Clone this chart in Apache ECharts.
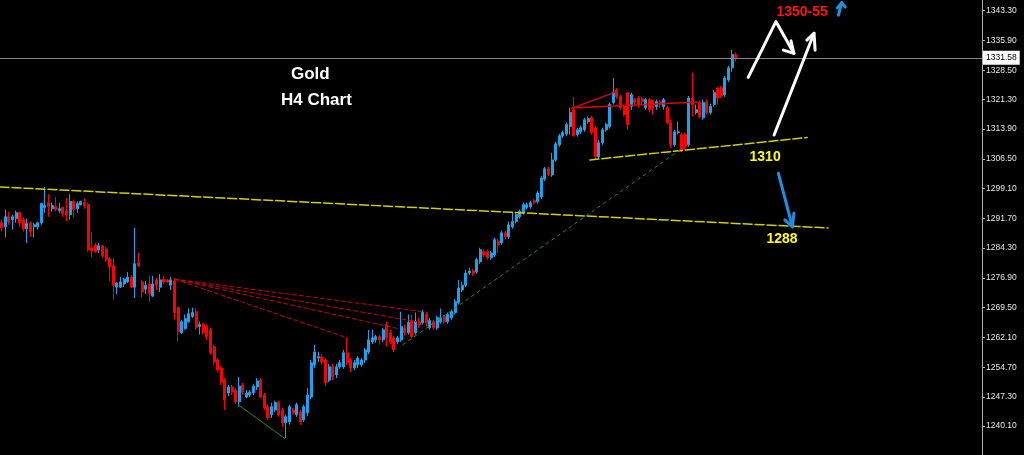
<!DOCTYPE html>
<html><head><meta charset="utf-8">
<script src="https://cdn.jsdelivr.net/npm/echarts@6/dist/echarts.min.js"></script>
<style>html,body{margin:0;padding:0;background:#000;overflow:hidden}#c{width:1024px;height:455px}</style>
</head><body><div id="c"></div>
<script>
// ---- candle values (XAUUSD H4), oldest first ----
const opens = [1290.6,1289.6,1292.1,1291.4,1291.6,1293.1,1291.4,1289.1,1290.6,1289.6,1289.6,1290.6,1294.4,1295.6,1294.1,1294.6,1293.6,1294.4,1293.6,1292.6,1295.9,1294.1,1295.1,1295.6,1295.1,1284.4,1285.1,1283.9,1284.9,1284.1,1281.6,1279.9,1274.6,1274.6,1275.4,1275.9,1277.1,1274.6,1280.6,1275.9,1274.1,1275.4,1272.4,1276.4,1274.6,1276.6,1276.4,1275.1,1276.1,1269.5,1263.3,1264.3,1266.0,1267.3,1268.5,1264.8,1265.3,1264.8,1264.0,1259.8,1256.5,1254.5,1251.5,1248.3,1249.8,1249.0,1246.1,1250.3,1247.3,1247.8,1248.3,1249.8,1251.5,1247.8,1244.9,1242.9,1244.1,1245.9,1244.1,1240.9,1241.1,1244.1,1242.9,1243.6,1241.6,1243.4,1247.3,1255.3,1257.0,1257.3,1256.5,1251.5,1254.8,1252.8,1254.8,1254.8,1258.3,1256.5,1254.5,1255.3,1255.3,1256.5,1258.5,1261.0,1261.5,1262.3,1261.5,1265.3,1263.3,1262.0,1261.0,1261.5,1264.5,1263.3,1266.3,1263.3,1266.0,1265.8,1267.8,1264.5,1266.0,1264.5,1266.0,1267.3,1266.0,1267.0,1268.3,1270.8,1273.9,1275.1,1278.1,1278.6,1278.4,1280.9,1283.4,1283.4,1281.9,1282.6,1286.1,1285.6,1288.1,1287.1,1289.6,1290.9,1292.1,1293.1,1294.4,1294.6,1296.1,1295.9,1297.0,1301.5,1304.0,1302.5,1306.2,1310.0,1312.2,1312.7,1314.5,1318.7,1312.5,1313.2,1313.7,1315.7,1316.7,1314.2,1307.0,1310.5,1313.7,1314.5,1320.5,1323.6,1321.9,1319.5,1322.9,1319.5,1321.2,1321.6,1321.4,1319.2,1321.2,1320.7,1319.5,1320.7,1319.5,1319.2,1315.5,1310.0,1313.0,1312.5,1312.5,1310.0,1321.6,1318.0,1320.5,1316.7,1320.5,1318.0,1320.0,1324.1,1324.1,1322.4,1326.1,1329.1,1332.4];
const closes = [1289.4,1292.1,1290.9,1292.1,1293.1,1290.6,1289.1,1290.4,1288.4,1290.1,1290.6,1295.4,1294.9,1294.6,1294.9,1293.9,1294.1,1292.9,1292.6,1295.9,1293.9,1295.4,1295.9,1294.9,1283.9,1283.6,1283.4,1284.9,1282.4,1281.4,1279.6,1275.1,1275.6,1275.9,1276.6,1277.1,1274.6,1280.4,1279.9,1273.4,1275.1,1273.1,1275.4,1275.1,1276.4,1275.9,1275.9,1276.4,1268.3,1263.5,1266.0,1266.8,1268.0,1268.3,1264.5,1265.3,1263.3,1262.3,1258.3,1256.0,1254.0,1251.0,1246.6,1249.8,1248.5,1246.1,1250.0,1248.5,1248.3,1248.5,1250.0,1251.3,1247.3,1244.6,1242.1,1244.9,1245.9,1242.9,1240.9,1242.4,1244.9,1243.4,1245.4,1241.1,1244.9,1247.8,1255.8,1258.5,1257.3,1256.0,1250.8,1254.8,1252.3,1254.8,1255.8,1258.3,1255.8,1254.5,1255.8,1257.0,1256.5,1259.0,1261.5,1262.0,1262.3,1261.5,1264.0,1262.0,1261.0,1259.0,1262.0,1264.8,1263.3,1265.8,1262.3,1266.0,1265.3,1268.3,1265.8,1266.3,1264.5,1267.0,1267.0,1266.0,1267.8,1268.5,1271.0,1274.4,1275.1,1278.1,1278.6,1278.1,1281.4,1283.9,1282.6,1281.9,1283.1,1286.4,1285.1,1288.1,1287.1,1290.1,1290.9,1292.6,1293.4,1295.1,1295.1,1295.6,1295.6,1298.0,1301.7,1304.0,1302.7,1306.2,1310.2,1312.2,1313.0,1315.0,1318.0,1312.2,1313.7,1314.2,1316.2,1316.5,1313.0,1307.0,1310.5,1313.7,1315.0,1320.0,1323.1,1321.9,1319.2,1317.5,1315.0,1322.4,1320.5,1320.0,1320.7,1321.2,1318.7,1319.2,1320.7,1320.0,1321.2,1315.5,1310.0,1313.2,1313.2,1308.7,1309.5,1321.6,1320.0,1318.7,1317.0,1320.5,1318.0,1319.5,1322.9,1321.6,1322.1,1326.6,1329.1,1332.4,1331.6];
const lows = [1288.4,1286.9,1290.1,1288.9,1290.6,1289.6,1288.4,1285.6,1287.1,1286.9,1288.9,1290.1,1293.1,1292.1,1293.4,1293.4,1293.1,1292.1,1290.9,1291.4,1291.9,1293.1,1294.9,1294.1,1283.4,1282.1,1283.1,1283.1,1281.9,1280.9,1276.1,1271.5,1272.9,1274.4,1274.6,1275.6,1274.4,1271.9,1279.6,1272.1,1272.9,1271.0,1272.1,1273.9,1273.4,1275.4,1275.6,1273.9,1266.5,1261.0,1263.0,1264.0,1265.8,1267.0,1264.0,1262.8,1262.8,1261.5,1257.8,1255.3,1253.5,1250.3,1244.1,1247.5,1247.8,1245.6,1244.9,1247.8,1247.0,1247.3,1247.8,1249.0,1247.0,1244.1,1241.6,1242.1,1243.6,1242.4,1239.9,1237.1,1240.4,1242.9,1242.4,1240.4,1241.1,1242.6,1246.8,1254.5,1256.0,1255.3,1250.0,1251.0,1251.5,1252.0,1254.3,1254.3,1255.3,1253.5,1254.0,1254.5,1254.8,1255.8,1258.0,1260.5,1260.8,1260.3,1261.0,1259.8,1260.5,1258.5,1260.5,1261.0,1262.5,1262.8,1262.0,1262.8,1264.5,1265.3,1264.8,1264.0,1264.0,1264.0,1265.5,1265.5,1265.5,1266.5,1267.8,1270.3,1273.4,1274.6,1277.6,1277.4,1277.9,1280.4,1282.1,1281.4,1281.4,1282.1,1283.1,1285.1,1286.4,1286.6,1289.1,1290.4,1291.6,1292.6,1293.9,1294.1,1295.1,1295.4,1296.5,1301.0,1302.2,1302.0,1305.7,1309.5,1311.7,1312.2,1312.5,1312.0,1312.0,1312.7,1313.2,1315.2,1312.5,1306.2,1306.5,1310.0,1313.2,1314.0,1320.0,1321.4,1318.7,1317.0,1313.7,1318.7,1320.0,1319.2,1320.0,1318.7,1318.0,1317.5,1318.7,1319.2,1318.7,1315.0,1309.2,1309.5,1312.5,1308.2,1308.7,1309.5,1317.0,1317.5,1316.5,1316.2,1317.5,1317.5,1319.5,1320.0,1321.6,1321.9,1325.6,1328.1,1330.6];
const highs = [1291.4,1293.9,1293.4,1292.6,1293.6,1293.4,1291.9,1291.6,1290.9,1290.6,1290.9,1295.6,1299.5,1297.7,1295.6,1297.0,1295.6,1294.6,1296.7,1297.7,1296.4,1295.9,1296.1,1296.7,1295.6,1288.4,1285.6,1285.6,1285.1,1284.6,1282.1,1281.9,1275.9,1277.1,1276.9,1278.4,1277.6,1289.4,1283.1,1276.4,1276.1,1277.4,1277.4,1276.9,1277.9,1277.4,1276.6,1277.1,1276.9,1269.8,1266.5,1267.8,1269.3,1269.5,1269.3,1266.0,1265.8,1265.3,1264.5,1260.3,1257.0,1255.0,1252.0,1250.3,1250.3,1249.5,1252.3,1250.8,1249.0,1249.0,1250.5,1252.0,1252.0,1248.3,1245.4,1245.9,1246.4,1246.4,1244.6,1242.9,1245.4,1244.6,1245.9,1244.1,1245.4,1249.5,1256.5,1260.3,1258.5,1258.0,1257.0,1255.5,1255.5,1255.5,1256.5,1259.0,1262.0,1257.0,1256.5,1257.5,1257.0,1259.5,1264.0,1264.0,1262.8,1262.8,1264.5,1266.0,1264.0,1262.5,1262.5,1268.5,1265.3,1267.8,1267.8,1268.3,1267.0,1269.0,1268.5,1267.0,1266.5,1267.5,1269.3,1267.8,1268.3,1269.0,1271.6,1276.4,1275.9,1278.9,1279.4,1279.1,1281.9,1284.4,1284.1,1283.9,1283.6,1286.9,1286.6,1288.6,1288.6,1290.9,1293.1,1293.1,1293.9,1295.6,1295.6,1296.1,1296.5,1298.5,1302.2,1304.5,1304.5,1308.0,1310.7,1312.7,1313.5,1315.5,1319.2,1321.9,1314.2,1314.7,1316.7,1317.0,1317.2,1314.7,1311.2,1314.2,1315.5,1320.5,1326.6,1324.1,1322.4,1320.0,1323.1,1322.9,1321.6,1322.1,1321.9,1321.6,1321.6,1321.2,1321.2,1321.2,1321.6,1319.7,1316.2,1313.7,1315.7,1313.0,1313.0,1322.1,1327.9,1320.0,1321.0,1321.2,1321.2,1320.2,1323.6,1324.4,1324.6,1327.1,1329.6,1333.6,1332.9];

// ---- price scale labels (right axis) ----
const priceTicks = [1343.30,1335.90,1328.50,1321.30,1313.90,1306.50,1299.10,1291.70,1284.30,1276.90,1269.50,1262.10,1254.70,1247.30,1240.10,1232.70];
const currentPrice = 1331.58;

// ---- drawn objects, in [bar index, price] ----
const yellowTrendLines = [
  [[-0.5, 1299.5], [229.7, 1289.3]],
  [[163.5, 1306.2], [223.9, 1311.8]]
];
const greenDottedLine = [[[111.5, 1260.3], [188.5, 1308.7]]];
const redFanLines = [
  [[48, 1276.6], [117.1, 1268.5]],
  [[48, 1276.6], [115.4, 1266.0]],
  [[48, 1276.6], [110.1, 1264.3]],
  [[48, 1276.6], [96.0, 1262.0]]
];
const redTopLines = [
  [[158.5, 1319.1], [170.9, 1323.2]],
  [[158.5, 1319.1], [193.3, 1320.6]]
];
const greenBottomLine = [[[65.75, 1245.35], [78.7, 1237.0]]];
const whiteArrows = [
  [[207.5, 1326.75], [215.2, 1340.6], [220.2, 1332.7]],
  [[217.3, 1333.5], [220.2, 1332.7], [219.4, 1335.8]],
  [[214.7, 1312.4], [225.8, 1337.7]],
  [[223.8, 1336.0], [225.8, 1337.7], [226.1, 1333.5]]
];
const blueArrows = [
  [[215.9, 1302.9], [219.8, 1289.6]],
  [[217.7, 1291.3], [219.8, 1289.6], [220.2, 1292.95]],
  [[232.6, 1342.2], [233.5, 1345.3]],
  [[232.3, 1344.0], [233.5, 1345.3], [234.5, 1344.2]]
];
const textNotes = [
  { text: '1350-55', at: [222.5, 1343.05] },
  { text: '1310', at: [212.2, 1307.0] },
  { text: '1288', at: [216.9, 1286.6] }
];

const slotCount = 273;
const slots = Array.from({ length: slotCount }, (_, i) => 'B' + i);
const candleData = opens.map((o, i) => [o, closes[i], lows[i], highs[i]]);

const chart = echarts.init(document.getElementById('c'), null, { renderer: 'canvas' });

function linesSeries(paths, color, width, type, z) {
  return {
    type: 'lines', coordinateSystem: 'cartesian2d', xAxisIndex: 1, yAxisIndex: 0,
    polyline: true, silent: true, z: z || 5,
    lineStyle: { color: color, width: width, type: type, opacity: 1, cap: 'round', join: 'round' },
    data: paths.map(p => ({ coords: p }))
  };
}

const bull = '#1aa3ec', bear = '#ff0000';
chart.setOption({
  backgroundColor: '#000000',
  animation: false,
  title: [
    { text: 'Gold', left: 291, top: 66, padding: 0,
      textStyle: { color: '#ffffff', fontSize: 17, fontWeight: 'bold', fontFamily: 'Liberation Sans' } },
    { text: 'H4 Chart', left: 281, top: 92, padding: 0,
      textStyle: { color: '#ffffff', fontSize: 17, fontWeight: 'bold', fontFamily: 'Liberation Sans' } }
  ],
  grid: { left: 0, right: 42, top: 0, bottom: 0, containLabel: false },
  xAxis: [
    { type: 'category', data: slots, boundaryGap: true, show: false },
    { type: 'value', min: -0.5, max: slotCount - 0.5, show: false }
  ],
  yAxis: {
    type: 'value', position: 'right', min: 1232.89, max: 1345.96,
    splitLine: { show: false },
    axisLine: { show: true, onZero: false, lineStyle: { color: '#b0b0b0', width: 1 } },
    axisTick: { show: true, customValues: priceTicks, length: 3, lineStyle: { color: '#b0b0b0' } },
    axisLabel: { customValues: priceTicks, formatter: v => v.toFixed(2), color: '#e6e6e6',
      fontSize: 8.5, fontFamily: 'Liberation Sans', margin: 4 }
  },
  series: [
    {
      type: 'candlestick', xAxisIndex: 0, yAxisIndex: 0, data: candleData, barWidth: 2.5, z: 3,
      itemStyle: { color: bull, color0: bear, borderColor: bull, borderColor0: bear, borderWidth: 1 },
      markLine: {
        silent: true, symbol: ['none', 'none'], animation: false,
        lineStyle: { color: '#7d8893', type: 'solid', width: 1 },
        label: { show: true, position: 'end', formatter: currentPrice.toFixed(2), color: '#000000',
          backgroundColor: '#ffffff', padding: [3, 3, 2, 3], fontSize: 8.5, fontFamily: 'Liberation Sans', distance: 1 },
        data: [{ yAxis: currentPrice }]
      }
    },
    linesSeries(yellowTrendLines, '#d0d000', 1.5, [9, 3], 4),
    linesSeries(greenDottedLine, '#1f8a1f', 1, [3, 4], 4),
    linesSeries(redFanLines, '#d00000', 1, [4, 3], 4),
    linesSeries(redTopLines, '#e00000', 1.5, 'solid', 4),
    linesSeries(greenBottomLine, '#1f8a1f', 1, 'solid', 4),
    linesSeries(whiteArrows, '#ffffff', 3, 'solid', 6),
    linesSeries(blueArrows, '#1e90e0', 3, 'solid', 6),
    {
      type: 'scatter', xAxisIndex: 1, yAxisIndex: 0, symbolSize: 1, silent: true, z: 7,
      itemStyle: { color: '#000000', opacity: 1 },
      label: { show: true, position: 'inside', formatter: p => p.name, fontWeight: 'bold',
        fontFamily: 'Liberation Sans', fontSize: 14, opacity: 1 },
      data: textNotes.map(n => ({ name: n.text, value: n.at,
        label: { color: n.text === '1350-55' ? '#ff1010' : '#ffff00' } }))
    }
  ]
});
</script>
</body></html>
